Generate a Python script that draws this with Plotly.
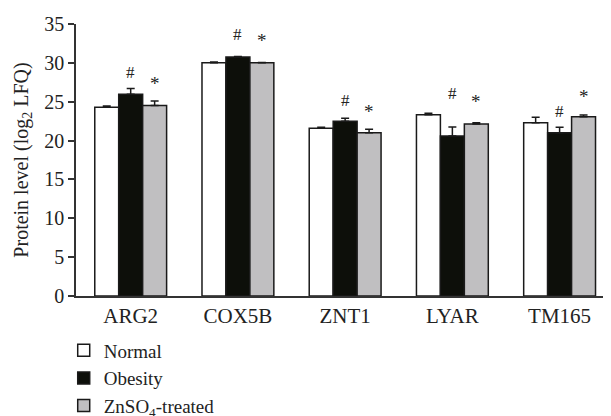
import plotly.graph_objects as go

categories = ["ARG2", "COX5B", "ZNT1", "LYAR", "TM165"]
normal = [24.3, 30.0, 21.57, 23.33, 22.3]
normal_err = [0.15, 0.12, 0.13, 0.17, 0.7]
obesity = [25.95, 30.75, 22.48, 20.59, 21.02]
obesity_err = [0.75, 0.06, 0.39, 1.16, 0.68]
zinc = [24.5, 30.0, 21.02, 22.13, 23.07]
zinc_err = [0.6, 0.05, 0.43, 0.17, 0.22]
hash_y = [28.76, 33.65, 25.22, 26.12, 23.68]
star_y = [27.92, 33.39, 24.32, 25.48, 26.25]
series_names = ["Normal", "Obesity", "ZnSO<sub>4</sub>-treated"]
y_ticks = [0, 5, 10, 15, 20, 25, 30, 35]

FONT = "Liberation Serif"
EDGE = "#1a1a1a"
TXT = "#222"
colors = ["#ffffff", "#0d0f0a", "#c0bfc1"]

fig = go.Figure()
for name, vals, errs, col in zip(series_names, [normal, obesity, zinc],
                                  [normal_err, obesity_err, zinc_err], colors):
    fig.add_trace(go.Bar(
        x=categories, y=vals, name=name,
        marker=dict(color=col, line=dict(color=EDGE, width=1.5)),
        error_y=dict(type="data", symmetric=False, array=errs,
                     arrayminus=[0] * len(errs), color=EDGE,
                     thickness=1.5, width=4),
    ))

bw = (1 - 0.33) / 3
annotations = []
for i in range(len(categories)):
    annotations.append(dict(x=i, y=hash_y[i], xref="x", yref="y", text="#",
                            showarrow=False, yanchor="middle",
                            font=dict(family=FONT, size=17, color=TXT)))
    annotations.append(dict(x=i + bw, y=star_y[i], xref="x", yref="y", text="*",
                            showarrow=False, yanchor="middle", yshift=-4,
                            font=dict(family=FONT, size=19, color=TXT)))

# The page body has an 8px default margin, so the figure is 8px smaller
# and its margins shifted accordingly.
fig.update_layout(
    width=603, height=408,
    margin=dict(l=68, r=1, t=16, b=120, autoexpand=False),
    paper_bgcolor="white", plot_bgcolor="white",
    barmode="group", bargap=0.33, bargroupgap=0,
    font=dict(family=FONT, size=20, color=TXT),
    showlegend=True,
    legend=dict(orientation="v", x=-0.023, xanchor="left", y=-0.13, yanchor="top",
                font=dict(family=FONT, size=19, color=TXT),
                tracegroupgap=0, itemwidth=30),
    annotations=annotations,
    xaxis=dict(range=[-0.51, 4.47], showline=True, linecolor="#333", linewidth=1.5,
               ticks="", showgrid=False, zeroline=False,
               tickfont=dict(family=FONT, size=21, color=TXT)),
    yaxis=dict(range=[0, 35], tickvals=y_ticks, showline=True, linecolor="#333",
               linewidth=1.5, ticks="outside", ticklen=6, tickwidth=1.5,
               tickcolor="#333", showgrid=False, zeroline=False,
               tickfont=dict(family=FONT, size=20, color=TXT),
               title=dict(text="Protein level (log<sub>2</sub> LFQ)", standoff=10,
                          font=dict(family=FONT, size=20, color=TXT))),
)

fig.write_html("out.html")
